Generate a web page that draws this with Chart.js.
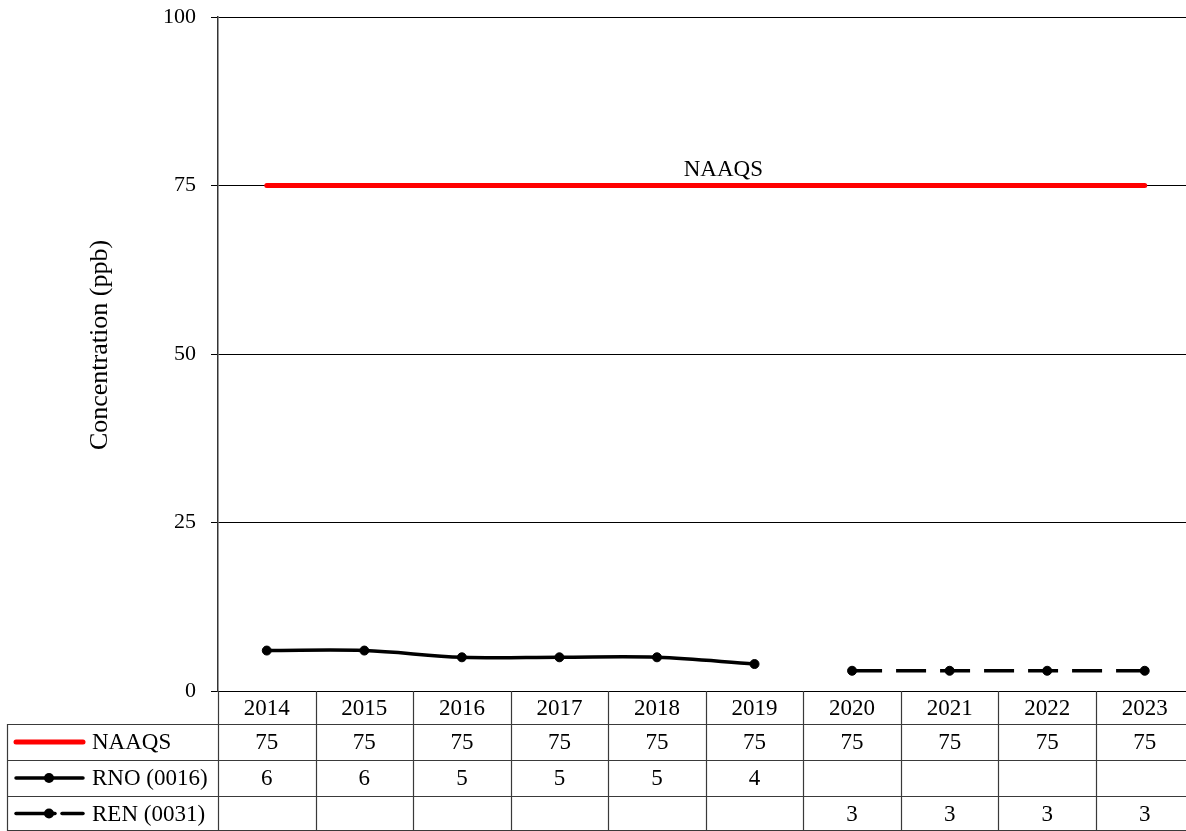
<!DOCTYPE html>
<html>
<head>
<meta charset="utf-8">
<script src="https://cdn.jsdelivr.net/npm/chart.js@4/dist/chart.umd.min.js"></script>
<style>
  html, body { margin: 0; padding: 0; background: #fff; overflow: hidden; }
  #wrap { width: 1186px; height: 831px; overflow: hidden; }
</style>
</head>
<body>
<div id="wrap"><canvas id="chart" width="1199" height="831"></canvas></div>
<script>
const years = ['2014', '2015', '2016', '2017', '2018', '2019', '2020', '2021', '2022', '2023'];
const naaqs = [75, 75, 75, 75, 75, 75, 75, 75, 75, 75];
const rno = [6, 6, 5, 5, 5, 4, null, null, null, null];
const ren = [null, null, null, null, null, null, 3, 3, 3, 3];
const yTicks = [0, 25, 50, 75, 100];
const seriesNames = ['NAAQS', 'RNO (0016)', 'REN (0031)'];
const naaqsLabelAt = 4.68; // category position of the "NAAQS" text

const FONT = '"Liberation Serif", "Times New Roman", serif';
const tableRows = [naaqs, rno, ren];

// draws the data table under the plot, plus the y title and line label
const tablePlugin = {
  id: 'dataTable',
  afterDraw(chart) {
    const ctx = chart.ctx;
    const x = chart.scales.x;
    const y = chart.scales.y;
    const area = chart.chartArea;
    const step = (area.right - area.left) / years.length;
    const rowTop = [area.bottom, 724, 760, 796, 831];
    const tableLeft = 7;

    ctx.save();
    ctx.strokeStyle = '#3a3a3a';
    ctx.lineWidth = 1.2;

    // vertical lines
    for (let i = 0; i <= years.length; i++) {
      const px = Math.round(area.left + i * step) + 0.5;
      ctx.beginPath();
      ctx.moveTo(px, area.bottom);
      ctx.lineTo(px, 831);
      ctx.stroke();
    }
    ctx.beginPath();
    ctx.moveTo(tableLeft + 0.5, rowTop[1]);
    ctx.lineTo(tableLeft + 0.5, 831);
    ctx.stroke();

    // horizontal lines
    for (let r = 1; r < rowTop.length; r++) {
      const py = Math.min(rowTop[r], 830) + 0.5;
      ctx.beginPath();
      ctx.moveTo(tableLeft, py);
      ctx.lineTo(area.right, py);
      ctx.stroke();
    }

    ctx.fillStyle = '#000';
    ctx.font = '23px ' + FONT;
    ctx.textAlign = 'center';
    ctx.textBaseline = 'middle';

    // header
    years.forEach((yr, i) => {
      ctx.fillText(yr, x.getPixelForValue(i), (rowTop[0] + rowTop[1]) / 2 + 1);
    });

    // values
    tableRows.forEach((vals, r) => {
      const cy = (rowTop[r + 1] + rowTop[r + 2]) / 2 + 1;
      vals.forEach((v, i) => {
        if (v !== null) ctx.fillText(String(v), x.getPixelForValue(i), cy);
      });
    });

    // legend keys
    tableRows.forEach((vals, r) => {
      const cy = (rowTop[r + 1] + rowTop[r + 2]) / 2;
      ctx.lineCap = 'round';
      if (r === 0) {
        ctx.strokeStyle = '#ff0000';
        ctx.lineWidth = 5;
        ctx.beginPath(); ctx.moveTo(16, cy); ctx.lineTo(83, cy); ctx.stroke();
      } else {
        ctx.strokeStyle = '#000';
        ctx.lineWidth = 3.5;
        if (r === 1) {
          ctx.beginPath(); ctx.moveTo(16, cy); ctx.lineTo(83, cy); ctx.stroke();
        } else {
          ctx.beginPath(); ctx.moveTo(16, cy); ctx.lineTo(55, cy); ctx.stroke();
          ctx.beginPath(); ctx.moveTo(62, cy); ctx.lineTo(83, cy); ctx.stroke();
        }
        ctx.fillStyle = '#000';
        ctx.beginPath(); ctx.arc(49, cy, 5, 0, Math.PI * 2); ctx.fill();
      }
      ctx.fillStyle = '#000';
      ctx.textAlign = 'left';
      ctx.fillText(seriesNames[r], 92, cy + 1);
    });

    // y axis title
    ctx.save();
    ctx.font = '26px ' + FONT;
    ctx.translate(100, 345);
    ctx.rotate(-Math.PI / 2);
    ctx.textAlign = 'center';
    ctx.textBaseline = 'middle';
    ctx.fillText('Concentration (ppb)', 0, 0);
    ctx.restore();

    // NAAQS label above the line
    ctx.font = '23px ' + FONT;
    ctx.textAlign = 'center';
    ctx.textBaseline = 'bottom';
    ctx.fillText('NAAQS', x.getPixelForValue(naaqsLabelAt), y.getPixelForValue(naaqs[0]) - 4);

    ctx.restore();
  }
};

new Chart(document.getElementById('chart'), {
  type: 'line',
  data: {
    labels: years,
    datasets: [
      {
        label: seriesNames[0],
        data: naaqs,
        borderColor: '#ff0000',
        borderWidth: 5,
        pointRadius: 0,
        borderCapStyle: 'round'
      },
      {
        label: seriesNames[1],
        data: rno,
        borderColor: '#000',
        backgroundColor: '#000',
        borderWidth: 3.5,
        pointRadius: 4.5,
        pointBorderWidth: 1,
        tension: 0.35,
        spanGaps: false
      },
      {
        label: seriesNames[2],
        data: ren,
        borderColor: '#000',
        backgroundColor: '#000',
        borderWidth: 3.5,
        borderDash: [30, 14],
        pointRadius: 4.5,
        pointBorderWidth: 1
      }
    ]
  },
  options: {
    responsive: false,
    animation: false,
    layout: { padding: { top: 17, bottom: 140, left: 0, right: 0 } },
    plugins: { legend: { display: false }, tooltip: { enabled: false } },
    scales: {
      x: { display: false, offset: true },
      y: {
        min: 0,
        max: 100,
        afterFit(scale) {
          scale.width = 218;
          scale.paddingTop = 0;
          scale.paddingBottom = 0;
        },
        afterBuildTicks(scale) { scale.ticks = yTicks.map(v => ({ value: v })); },
        border: { color: '#333', width: 1.5 },
        grid: { color: '#000', lineWidth: 1, tickLength: 7 },
        ticks: {
          color: '#000',
          padding: 15,
          font: { family: FONT, size: 22 }
        }
      }
    }
  },
  plugins: [tablePlugin]
});
</script>
</body>
</html>
